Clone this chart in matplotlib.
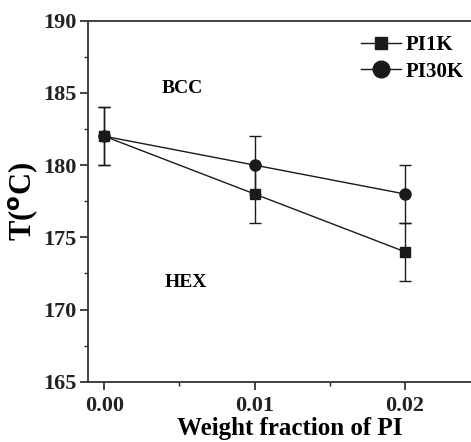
import matplotlib
matplotlib.use("Agg")
import matplotlib.pyplot as plt
from matplotlib.ticker import MultipleLocator
from matplotlib.lines import Line2D

x = [0.00, 0.01, 0.02]
pi1k = [182, 178, 174]
pi1k_err = [2, 2, 2]
pi30k = [182, 180, 178]
pi30k_err = [2, 2, 2]
series_labels = ["PI1K", "PI30K"]

plt.rcParams['font.family'] = ['Liberation Serif', 'DejaVu Serif']
plt.rcParams['font.weight'] = 'bold'

W, H = 471, 442
left, right, top, bottom = 88, 492, 20.7, 381.7
fig = plt.figure(figsize=(W/100, H/100), dpi=100)
ax = fig.add_axes([left/W, 1 - bottom/H, (right-left)/W, (bottom-top)/H])

c = '#1a1a1a'
ax.errorbar(x, pi1k, yerr=pi1k_err, color=c, marker='s', markersize=7, lw=1,
            capsize=4, elinewidth=1, capthick=1)
ax.errorbar(x, pi30k, yerr=pi30k_err, color=c, marker='o', markersize=8, lw=1,
            capsize=4, elinewidth=1, capthick=1)

x0 = 0.0 - (104.3 - left) / 15030
x1 = 0.0 + (right - 104.3) / 15030
ax.set_xlim(x0, x1)
ax.set_ylim(165, 190)
ax.set_xticks([0.0, 0.01, 0.02])
ax.set_xticklabels(["0.00", "0.01", "0.02"])
ax.xaxis.set_minor_locator(MultipleLocator(0.005))
ax.yaxis.set_major_locator(MultipleLocator(5))
ax.yaxis.set_minor_locator(MultipleLocator(2.5))
ax.tick_params(which='major', direction='out', length=6, width=1.2, labelsize=16,
               colors='#222222', pad=2)
ax.tick_params(which='minor', direction='out', length=3, width=1.0, colors='#222222')
ax.tick_params(axis='x', which='major', pad=4)
ax.tick_params(axis='x', which='both', top=False)
ax.tick_params(axis='y', which='both', right=False)
for s in ['left', 'bottom', 'top', 'right']:
    ax.spines[s].set_linewidth(1.3)
    ax.spines[s].set_color('#333333')

ax.set_xlabel("Weight fraction of PI", fontsize=18, fontweight='bold', labelpad=1)
ax.set_ylabel(r"T($^{\rm o}$C)", fontsize=22, fontweight='bold', labelpad=2)

ax.text(0.0052, 185.3, "BCC", fontsize=14, fontweight='bold', ha='center', va='center')
ax.text(0.0054, 171.9, "HEX", fontsize=14, fontweight='bold', ha='center', va='center')

handles = [Line2D([], [], color=c, lw=1, marker='s', markersize=9),
           Line2D([], [], color=c, lw=1, marker='o', markersize=12)]
ax.legend(handles, series_labels, loc='upper right',
          bbox_to_anchor=((478 - left) / (right - left), 1.0), borderaxespad=0.3,
          frameon=False, prop={'weight': 'bold', 'size': 15}, handlelength=1.95,
          handletextpad=0.2, labelspacing=0.3)

fig.savefig("out.png", dpi=100)
